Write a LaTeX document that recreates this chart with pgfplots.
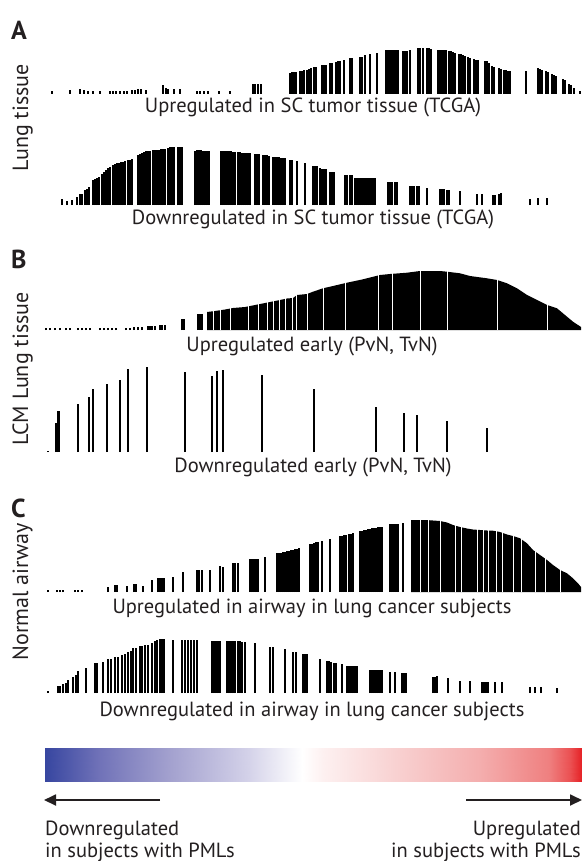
\documentclass[border=0pt]{standalone}
\usepackage{fontspec}
\setmainfont{PT Sans}
\usepackage{pgfplots}
\pgfplotsset{compat=1.18}
\usetikzlibrary{arrows.meta}
\definecolor{ink}{HTML}{231F20}

% one barcode strip = one hidden axis, 1 unit = 1pt, origin on the baseline
\pgfplotsset{
  barcode/.style={hide axis, scale only axis, width=585pt, height=100pt,
    xmin=0, xmax=585, ymin=0, ymax=100, anchor=south west, clip=false},
  bars/.style={ycomb, line width=2.7pt, color=black},
  gaps/.style={ycomb, line width=0.7pt, color=white},
}
\newcommand{\labfont}{\fontsize{20.5}{24}\selectfont}

\begin{document}
\begin{tikzpicture}[x=1pt,y=1pt]
\useasboundingbox (0,0) rectangle (585,-861);

% ---------------- A: upregulated in SC tumor tissue
\begin{axis}[barcode, at={(0pt,-94pt)}]
\addplot[bars] coordinates {
(52,2.5) (70,4) (80,5) (84,4) (88,3) (93,3) (100,3) (110,2.5) (113,2.5) (116,2.5)
(120,2.5) (124,2.5) (127,2.5) (132,4) (135,4) (138,5) (141,5) (146,4) (163,9) (166,6)
(168,5) (174,5) (180,5) (197,3) (200,3) (204,3) (208,3) (219,3) (230,3)
(253,10) (255,10) (258,10) (261,10)
(290,21) (292,21.5) (294,22) (296,22) (300,23) (302,23) (304,23.5) (307,24) (309,25)
(311,25.5) (314,26.5) (316,27) (322,28.5) (324,29) (326,29) (330,30.5) (332,31)
(336,32) (338,32.5) (340,33) (344,34) (350,35.5) (352,36) (360,37) (362,37) (365,38.5)
(370,39.5) (377,41) (386,43.5) (388,44) (390,44) (392,44) (394,44) (396,43.5) (398,43.5)
(403,43) (405,43) (407,43) (410,43.5) (418,45.5) (420,45.5) (423,46) (427,46) (429,45.5)
(431,45) (438,44) (440,44) (442,44) (444,43.5) (446,43.5) (449,43) (451,42.5) (453,42)
(455,41) (459,40) (461,39.5) (463,39) (465,38) (468,37) (470,36) (474,35) (476,34)
(478,34) (485,33) (487,32.5) (489,31) (492,28) (494,27) (499,25.5) (501,25) (504,24)
(506,24) (508,23) (510,22.5) (526,23) (538,25.5) (540,25) (542,24) (546,22.5) (548,22)
(552,20) (554,19) (556,17.5) (563,15) (565,14) (569,10) (571,9) (574,5.5) (580,2.5)
};
\end{axis}

% ---------------- A: downregulated in SC tumor tissue
\begin{axis}[barcode, at={(0pt,-205pt)}]
\addplot[bars] coordinates {
(62,6) (67,4.5) (72,5) (77,8) (80,11) (82,11) (85,15) (87,16) (89,18) (93,25) (95,26)
(97,27) (99,28) (102,31) (104,33) (106,35) (108,37) (110,38) (113,40) (115,41) (117,42)
(119,42) (121,42.5) (123,43) (125,44) (128,45) (130,45) (132,45.5) (138,50) (140,51)
(142,52) (144,53) (146,53.5) (148,54) (150,54) (153,54.5) (155,55) (157,55) (159,55)
(161,55.5) (163,55.5) (165,56) (168,57) (170,57.5) (172,57.5) (174,57.5) (178,58)
(180,58) (182,57.5)
(195,54) (197,54.5) (199,54.5) (201,54.5) (203,54) (205,54) (207,54) (209,54)
(221,54) (223,54) (225,54) (227,53.5) (229,53.5) (231,53.5) (233,53) (235,53)
(238,52.5) (240,52.5) (242,52) (244,52) (246,52) (248,51.5) (250,51.5)
(255,51) (257,51) (259,51) (263,50) (265,50) (267,49.5) (269,49)
(273,48) (275,48) (277,48) (279,47.5) (281,47) (283,47) (285,46.5) (290,45) (292,45)
(297,43.5) (305,41.5) (313,39) (315,39) (317,39) (320,37) (322,36.5) (324,36.5) (326,36)
(330,33.5) (332,33) (334,33) (345,30) (347,30) (350,30) (352,30)
(355,27.5) (357,27.5) (359,27.5) (361,27) (363,27) (365,27) (367,27) (369,27) (371,27)
(373,27) (375,27) (388,23.5) (390,23.5) (392,23) (395,23) (397,23)
(410,19) (412,19) (414,19) (417,19) (419,19) (427,17.5)
(440,16) (442,16) (444,16) (447,15.5) (449,15.5) (460,14) (477,11) (482,11)
(493,10) (495,10.5) (499,11) (501,12) (530,6.5) (538,7) (547,7.5)
};
\end{axis}

% ---------------- B: upregulated early
\begin{axis}[barcode, at={(0pt,-330pt)}]
\addplot[bars] coordinates {
(46,2) (50,2) (55,2) (60,2) (66,2) (70,2) (78,2.5) (82,2.5) (86,2) (90,2.5)
(100,2) (104,2) (108,2) (112,2) (116,2) (126,2.5) (130,2.5) (134,3) (138,3) (142,3)
(148,4) (150,4) (152,4) (155,4.5) (160,5) (162,5) (165,5) (182,11) (184,11)
(198,16) (200,16) (202,16)
};
\addplot[fill=black, draw=none] coordinates {
(207,18) (215,19) (225,20.5) (233,22) (245,23) (255,25) (265,27) (275,29) (280,30)
(287,31.5) (293,32) (297,35) (307,36) (313,38.3) (323,41.7) (333,44) (347,47.3)
(363,50.7) (380,55) (390,56) (407,57.3) (420,59) (440,59) (447,58.3) (460,56.7)
(470,54) (487,51.7) (497,50) (507,46.7) (517,41.7) (527,35) (537,30) (547,25)
(557,21.7) (567,13.3) (573,8.3) (578,5) (581,3)
} \closedcycle;
\addplot[gaps] coordinates {
(213,30) (220,30) (230,30) (248,30) (258,30) (267,30) (273,30) (279,40) (285,40)
(292,40) (296,40) (307,40) (323,50) (345,50) (378,60) (392,60) (420,62) (447,62)
(497,62) (547,40)
};
\end{axis}

% ---------------- B: downregulated early
\begin{axis}[barcode, at={(0pt,-452pt)}]
\addplot[bars, line width=2.9pt] coordinates {
(48,1.5) (56,29) (58.5,41) (78,47.7) (89,54.7) (93,62.7) (107,67.7) (120,72)
(128,83.3) (147,84.7) (185,79.7) (212,76.3) (217,81) (223,82) (262,77) (314,63)
(376,44.7) (404,38.7) (417,37) (447,31.3) (487,23.7)
};
\end{axis}

% ---------------- C: upregulated in airway
\begin{axis}[barcode, at={(0pt,-592pt)}]
\addplot[bars] coordinates {
(48,2) (57,2) (60,2) (63,2) (75,2) (78,2) (82,2)
(108,5) (115,7) (117,7) (127,6) (134,8) (136,8) (143,6) (152,12) (158,14.5) (160,14.5)
(162,14.5) (164,14) (173,15) (183,20) (197,22) (199,22) (202,22) (210,22) (220,26)
(223,25) (233,28.7) (235,28.7) (238,28.7) (250,32.7) (252,33) (254,33) (256,33)
(258,33) (265,35.3) (277,38.7) (279,39) (281,39.5) (283,40) (285,40.5) (287,41)
(289,41.5) (291,42) (293,42.5) (295,43) (297,43.5) (299,43.7)
(310,48) (312,48.5) (314,49) (316,50) (318,50) (322,51) (330,53)
(340,56) (342,56.5) (344,57) (346,57.5) (349,58) (351,58.5) (353,58.7)
(360,61) (362,61.5) (364,62) (366,62.5) (368,63) (370,63.5) (372,64) (374,64)
(376,64.5) (378,65) (380,65) (382,65.3) (390,68) (392,68) (394,68) (396,68) (398,68)
(403,69.3)
};
\addplot[fill=black, draw=none] coordinates {
(411,72) (426,72) (433,71.5) (440,71) (447,69.5) (453,67) (460,65) (467,63.5)
(473,62.5) (480,62) (487,61.5) (493,61.3) (500,60) (507,57.5) (513,56) (520,53.7)
(527,48.7) (533,42) (540,37) (547,32) (553,27) (560,22) (567,18.7) (573,13.7)
(578,8.7) (581,5)
} \closedcycle;
\addplot[gaps] coordinates {
(420,74) (428,74) (440,74) (455,70) (461,70) (477,65) (483,65) (488,65) (496,65)
(502,62) (513,60) (521,56) (535,45) (545,35) (560,25)
};
\end{axis}

% ---------------- C: downregulated in airway
\begin{axis}[barcode, at={(0pt,-693pt)}]
\addplot[bars] coordinates {
(48,2) (58,7) (60,7) (63,9) (66,10) (68,13) (73,16.3) (76,18) (78,22.3) (86,24.7)
(95,30.3) (97,30.5) (103,31.3) (108,33.7) (111,34.5) (115,35.7) (118,36.5) (122,38)
(125,39) (128,41.3) (131,42.5) (133,44.7) (136,45.5) (140,47) (142,47.5) (145,48)
(148,48) (152,50.5) (155,52.3) (157,53) (160,54) (162,54) (164,54) (173,53)
(182,53) (185,53) (188,53) (191,53) (194,53) (197,53)
(212,52.3) (214,52.3) (216,52.5) (218,52.5) (220,52)
(227,52) (229,52) (231,52) (233,52) (235,52) (238,52) (240,52) (242,51.5) (245,51.5)
(255,50.3) (270,46.3) (273,46.3) (285,43.7) (293,41.3) (296,40.7) (303,39) (305,39)
(307,39) (320,33.7) (327,32) (329,32) (331,31.5) (334,30.3) (336,30.3) (342,28.7)
(347,27) (349,27) (351,27) (353,27) (355,27) (357,27) (370,23) (372,23) (374,23)
(376,23) (378,23) (380,23) (382,23) (390,21.3) (395,21.3) (402,20.3) (404,20.3)
(406,20.3) (433,16) (435,16.5) (437,17) (448,14.7) (460,12.3) (470,12) (482,11)
(484,11.3) (486,11.3) (488,11.3) (495,11.3) (502,11.3) (530,6) (535,6.3) (541,6.3)
(557,4.7)
};
\end{axis}

% ---------------- colour key
\begin{axis}[at={(45pt,-781pt)}, anchor=south west, hide axis, scale only axis,
  width=536pt, height=33pt, xmin=0, xmax=1, ymin=0, ymax=1,
  colormap={pml}{rgb255(0pt)=(55,70,160); rgb255(10pt)=(112,114,184);
    rgb255(23pt)=(162,160,206); rgb255(38pt)=(212,210,233); rgb255(48pt)=(255,255,255);
    rgb255(52pt)=(253,240,240); rgb255(66pt)=(248,208,208); rgb255(81pt)=(244,174,174);
    rgb255(94pt)=(239,128,128); rgb255(98pt)=(235,80,82); rgb255(100pt)=(230,36,40)}]
\addplot[surf, shader=interp, mesh/rows=2, mesh/cols=21, point meta=x] coordinates {
(0,0) (0.05,0) (0.1,0) (0.15,0) (0.2,0) (0.25,0) (0.3,0) (0.35,0) (0.4,0) (0.45,0)
(0.5,0) (0.55,0) (0.6,0) (0.65,0) (0.7,0) (0.75,0) (0.8,0) (0.85,0) (0.9,0) (0.95,0) (1,0)
(0,1) (0.05,1) (0.1,1) (0.15,1) (0.2,1) (0.25,1) (0.3,1) (0.35,1) (0.4,1) (0.45,1)
(0.5,1) (0.55,1) (0.6,1) (0.65,1) (0.7,1) (0.75,1) (0.8,1) (0.85,1) (0.9,1) (0.95,1) (1,1)
};
\end{axis}

\draw[ink, line width=1.8pt, -{Triangle[length=12pt,width=11pt]}] (160,-800) -- (44,-800);
\draw[ink, line width=1.8pt, -{Triangle[length=12pt,width=11pt]}] (466,-800) -- (582,-800);

% ---------------- text
\begin{scope}[every node/.style={text=ink, font=\labfont, inner sep=0pt}]
\node[anchor=base] at (313,-113) {Upregulated in SC tumor tissue (TCGA)};
\node[anchor=base] at (313,-224) {Downregulated in SC tumor tissue (TCGA)};
\node[anchor=base] at (312,-351) {Upregulated early (PvN, TvN)};
\node[anchor=base] at (313,-472) {Downregulated early (PvN, TvN)};
\node[anchor=base] at (312,-613) {Upregulated in airway in lung cancer subjects};
\node[anchor=base] at (312,-716) {Downregulated in airway in lung cancer subjects};
\node[anchor=base west] at (45,-835) {Downregulated};
\node[anchor=base west] at (45,-857) {in subjects with PMLs};
\node[anchor=base east] at (581,-835) {Upregulated};
\node[anchor=base east] at (581,-857) {in subjects with PMLs};
\end{scope}
\begin{scope}[every node/.style={text=ink, font=\fontsize{22}{26}\selectfont, inner sep=0pt, rotate=90, anchor=base}]
\node at (28,-118) {Lung tissue};
\node at (28,-369) {LCM Lung tissue};
\node at (28,-592) {Normal airway};
\end{scope}
\begin{scope}[every node/.style={text=ink, font=\bfseries\fontsize{26}{28}\selectfont, inner sep=0pt, anchor=base west}]
\node at (11,-40) {A};
\node at (11,-268) {B};
\node at (11,-517) {C};
\end{scope}
\end{tikzpicture}
\end{document}
